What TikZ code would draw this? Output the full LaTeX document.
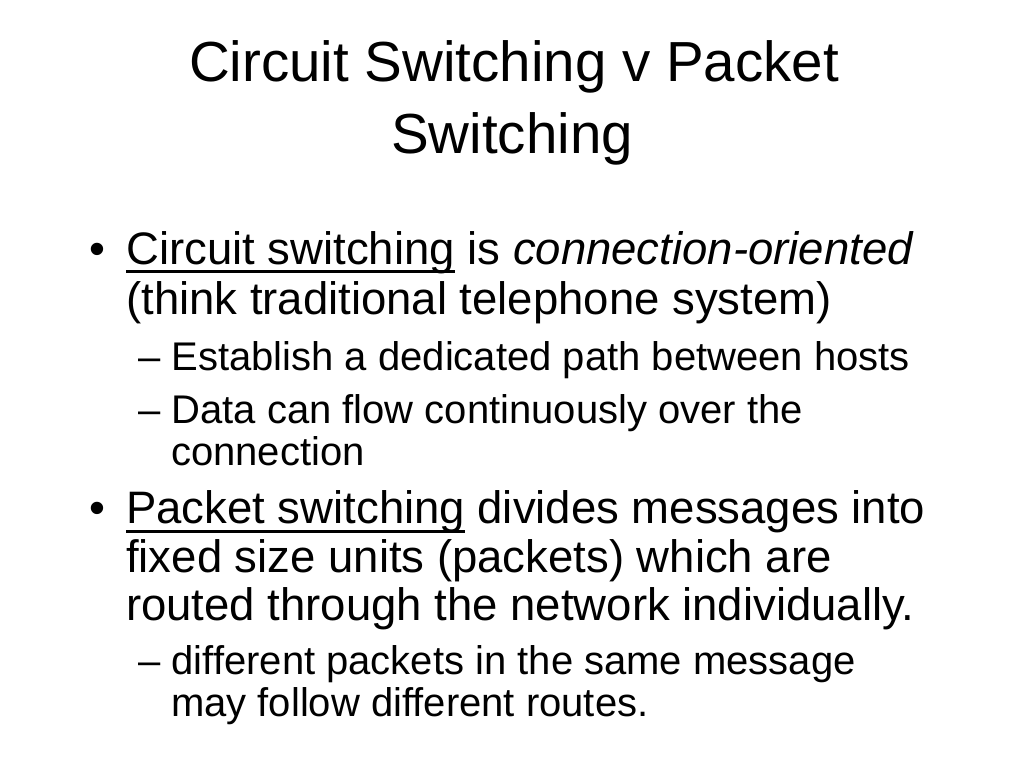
\documentclass[tikz,border=0pt]{standalone}
\usepackage{fontspec}
\setmainfont{Liberation Sans}
\usepackage{tikz}
\usetikzlibrary{positioning}
\newcommand{\ulword}[1]{\setbox0\hbox{#1}\rlap{\rule[-9pt]{\wd0}{3pt}}\box0\relax}
\tikzstyle{title} = [anchor=base, inner sep=0pt, font=\fontsize{56.5}{64}\selectfont]
\tikzstyle{point} = [anchor=base west, inner sep=0pt, font=\fontsize{45.5}{50}\selectfont]
\tikzstyle{subpoint} = [anchor=base west, inner sep=0pt, font=\fontsize{40}{42}\selectfont]

\begin{document}
\begin{tikzpicture}
\useasboundingbox [fill=white] (0pt,0pt) rectangle (1024pt,-768pt);

\node (title-a) [title] at (514pt,-81.5pt) {Circuit Switching v Packet};
\node (title-b) [title] at (512pt,-153.5pt) {Switching};

\node (bullet-circuit) [point] at (89pt,-264pt) {•};
\node (circuit-a) [point] at (126pt,-264pt) {\ulword{Circuit switching} is \textit{connection-oriented}};
\node (circuit-b) [point] at (126pt,-314pt) {(think traditional telephone system)};

\node (establish) [subpoint] at (138pt,-370pt) {– Establish a dedicated path between hosts};
\node (flow-a) [subpoint] at (138pt,-423pt) {– Data can flow continuously over the};
\node (flow-b) [subpoint] at (171pt,-465pt) {connection};

\node (bullet-packet) [point] at (89pt,-523.5pt) {•};
\node (packet-a) [point] at (126pt,-523.5pt) {\ulword{Packet switching} divides messages into};
\node (packet-b) [point] at (126pt,-572pt) {fixed size units (packets) which are};
\node (packet-c) [point] at (126pt,-620pt) {routed through the network individually.};

\node (routes-a) [subpoint] at (138pt,-674pt) {– different packets in the same message};
\node (routes-b) [subpoint] at (171pt,-716.5pt) {may follow different routes.};
\end{tikzpicture}
\end{document}
